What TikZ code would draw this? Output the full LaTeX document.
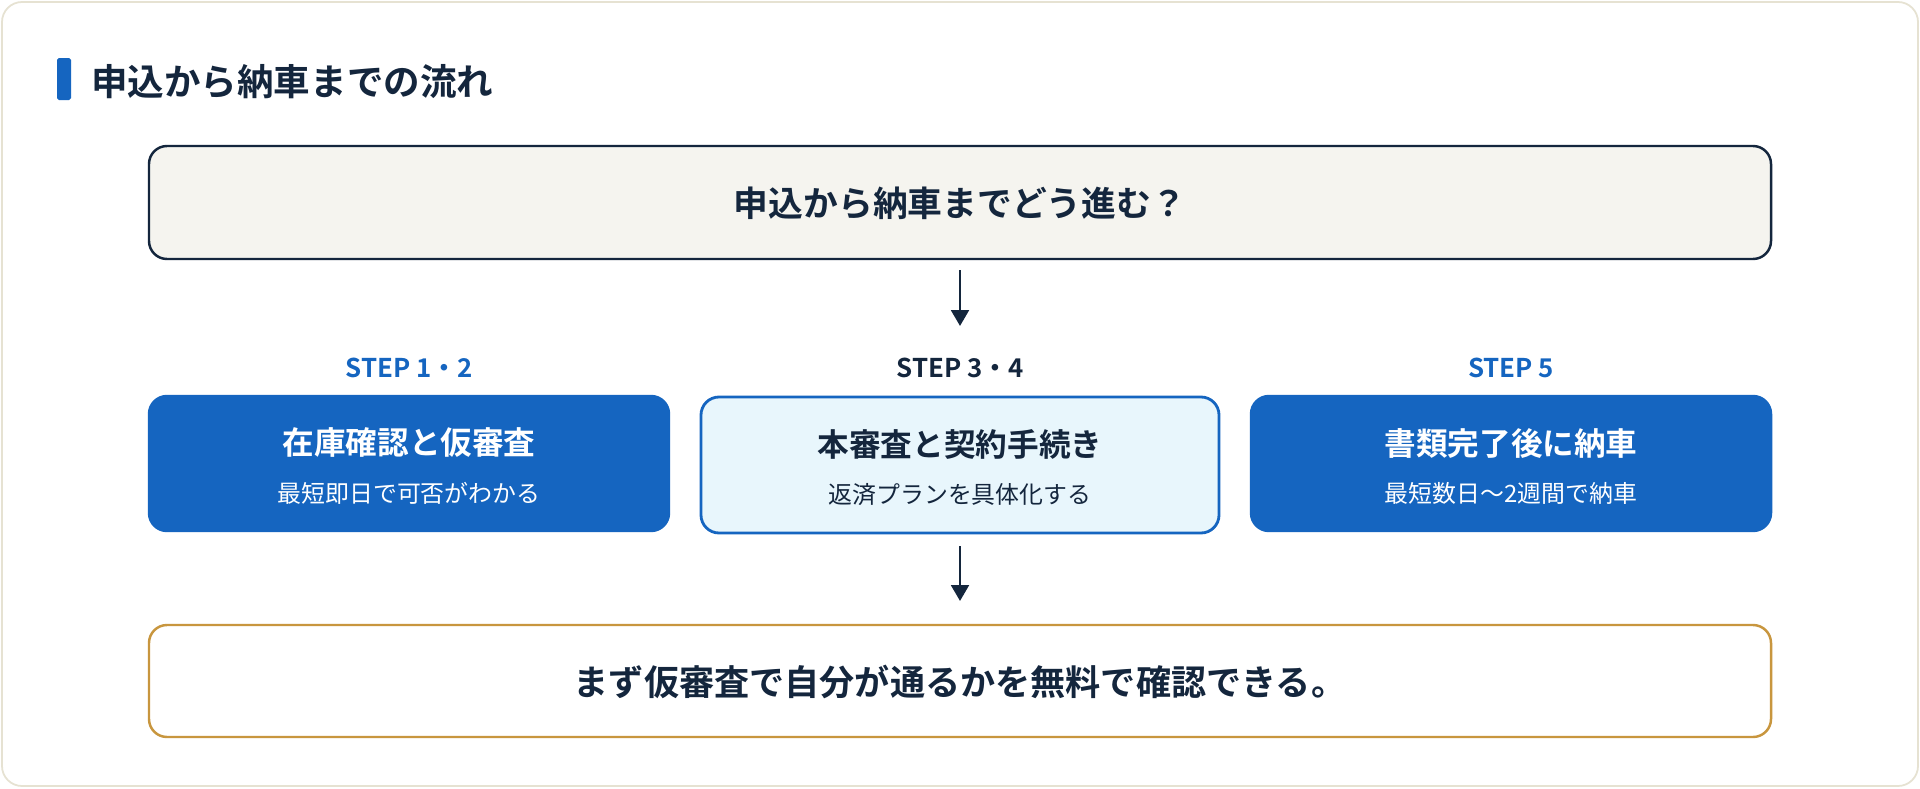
\documentclass[tikz,border=0pt]{standalone}
\usepackage{fontspec}
\setmainfont{Noto Sans CJK JP}[BoldFont={* Bold}]
\usetikzlibrary{arrows.meta}
\definecolor{navy}{HTML}{14263D}
\definecolor{blu}{HTML}{1565C0}
\definecolor{lblue}{HTML}{E8F6FC}
\definecolor{gold}{HTML}{C8963E}
\definecolor{cream}{HTML}{F5F4EF}
\definecolor{edge}{HTML}{E6E2D2}
\tikzset{
 px/.style={x=0.02cm,y=-0.02cm},
 box/.style={rounded corners=0.36cm,line width=1.4pt},
 arr/.style={draw=navy,line width=1.6pt,-{Triangle[length=9pt,width=10pt]}},
 steplbl/.style={font=\bfseries\fontsize{14.7}{16}\selectfont},
 ttl/.style={font=\bfseries\fontsize{18}{21}\selectfont},
 sub/.style={font=\fontsize{13.6}{15}\selectfont},
}
\begin{document}
\begin{tikzpicture}[px]
\useasboundingbox (0,0) rectangle (1920,788);
\fill[white] (0,0) rectangle (1920,788);
\draw[edge,line width=1pt,rounded corners=0.4cm,fill=white] (2,2) rectangle (1918,786);
\fill[blu,rounded corners=1pt] (57,58) rectangle (71,100);
\node[anchor=west,text=navy,font=\bfseries\fontsize{20.8}{24}\selectfont] (title) at (85,82) {申込から納車までの流れ};
\draw[box,draw=navy,fill=cream] (149,146) rectangle (1771,259);
\node[text=navy,font=\bfseries\fontsize{19.8}{23}\selectfont] (q) at (960,203) {申込から納車までどう進む？};
\coordinate (a1s) at (960,270); \coordinate (a1e) at (960,326);
\draw[arr] (a1s) -- (a1e);
\node[steplbl,text=blu] (s1) at (409,368) {STEP 1・2};
\node[steplbl,text=navy] (s2) at (960,368) {STEP 3・4};
\node[steplbl,text=blu] (s3) at (1511,368) {STEP 5};
\draw[box,draw=blu,fill=blu] (149,396) rectangle (669,531);
\node[ttl,text=white] (b1) at (409,443) {在庫確認と仮審査};
\node[sub,text=white] (b1s) at (409,493) {最短即日で可否がわかる};
\draw[box,draw=blu,fill=lblue,line width=1.6pt] (701,397) rectangle (1219,533);
\node[ttl,text=navy] (b2) at (960,444) {本審査と契約手続き};
\node[sub,text=navy] (b2s) at (960,495) {返済プランを具体化する};
\draw[box,draw=blu,fill=blu] (1251,396) rectangle (1771,531);
\node[ttl,text=white] (b3) at (1511,443) {書類完了後に納車};
\node[sub,text=white] (b3s) at (1511,493) {最短数日〜2週間で納車};
\coordinate (a2s) at (960,546); \coordinate (a2e) at (960,601);
\draw[arr] (a2s) -- (a2e);
\draw[box,draw=gold,fill=white] (149,625) rectangle (1771,737);
\node[text=navy,font=\bfseries\fontsize{20}{23}\selectfont] (c) at (960,682) {まず仮審査で自分が通るかを無料で確認できる。};
\end{tikzpicture}
\end{document}
